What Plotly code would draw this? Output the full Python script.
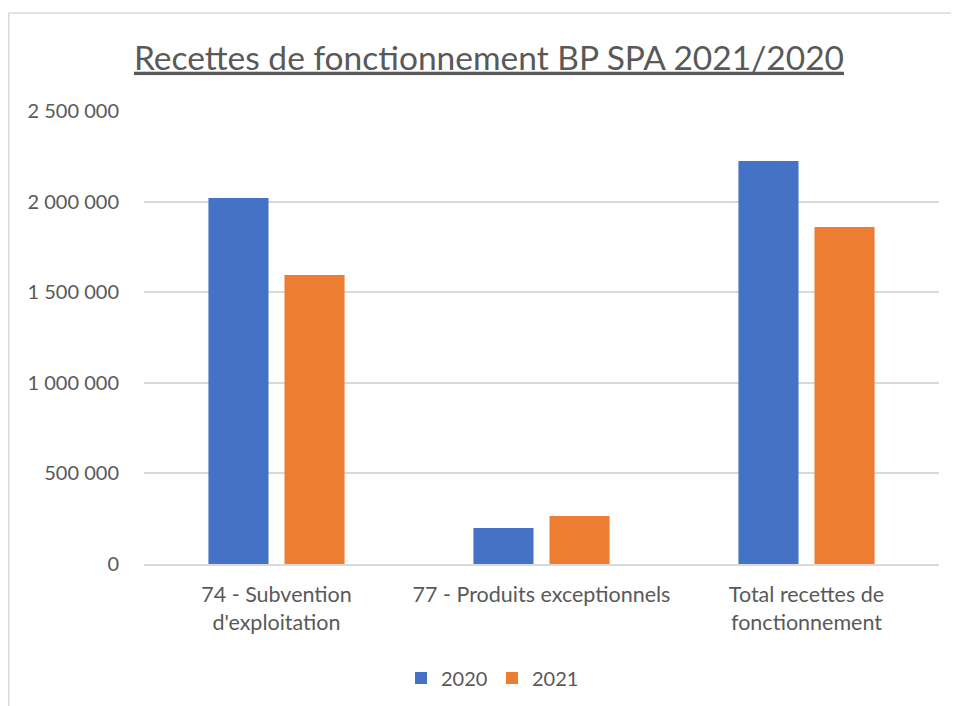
import plotly.graph_objects as go

categories = ["74 - Subvention<br>d'exploitation", "77 - Produits exceptionnels", "Total recettes de<br>fonctionnement"]
values_2020 = [2020000, 199000, 2224000]
values_2021 = [1595000, 265000, 1860000]
tick_vals = [0, 500000, 1000000, 1500000, 2000000, 2500000]
tick_text = ["0", "500 000", "1 000 000", "1 500 000", "2 000 000", "2 500 000"]

# page is offset by 8px body margin; coordinates below are figure coords
W, H = 951, 698
L, T = 136, 103
PR, PB = 931, 556
R, B = W - PR, H - PB
pw, ph = PR - L, PB - T

fig = go.Figure()
fig.add_trace(go.Bar(name="2020", x=categories, y=values_2020, marker_color="#4472C4",
                     marker_line_width=0))
fig.add_trace(go.Bar(name="2021", x=categories, y=values_2021, marker_color="#ED7D31",
                     marker_line_width=0))

font_family = "Lato, 'Open Sans', sans-serif"
fig.update_layout(
    width=W, height=H,
    margin=dict(l=L, r=R, t=T, b=B, pad=0, autoexpand=False),
    paper_bgcolor="white", plot_bgcolor="white",
    barmode="group", bargap=0.426, bargroupgap=0.21,
    font=dict(family=font_family, color="#595959", size=20),
    title=dict(text="Recettes de fonctionnement BP SPA 2021/2020",
               font=dict(size=33.5, color="#595959", family=font_family, lineposition="under"),
               x=481 / W, xanchor="center", xref="container",
               y=1 - 50 / H, yanchor="middle", yref="container"),
    legend=dict(orientation="h", x=(484 - L) / pw, xanchor="center",
                y=-(670 - PB) / ph, yanchor="middle",
                font=dict(size=20, color="#595959"), itemsizing="constant",
                entrywidth=46, traceorder="normal"),
    showlegend=True,
)
fig.update_yaxes(range=[0, 2500000], tickvals=tick_vals, ticktext=tick_text,
                 showgrid=True, gridcolor="#D9D9D9", gridwidth=1.5,
                 zeroline=False, showline=False, ticks="", ticklen=0,
                 tickfont=dict(size=20, color="#595959"), ticklabelstandoff=24)
fig.update_xaxes(showgrid=False, showline=True, linecolor="#D9D9D9", linewidth=1.5,
                 ticks="", tickfont=dict(size=21.5, color="#595959"), ticklabelstandoff=10)

# outer chart border (light gray), top-left visible
x_left = (0.75 - L) / pw
y_top = (PB - 5) / ph
fig.add_shape(type="line", xref="paper", yref="paper", x0=x_left, x1=(W + 20 - L) / pw,
              y0=y_top, y1=y_top, line=dict(color="#D9D9D9", width=1.5))
fig.add_shape(type="line", xref="paper", yref="paper", x0=x_left, x1=x_left,
              y0=y_top, y1=-(H + 20 - PB) / ph, line=dict(color="#D9D9D9", width=1.5))

fig.write_html("out.html")
